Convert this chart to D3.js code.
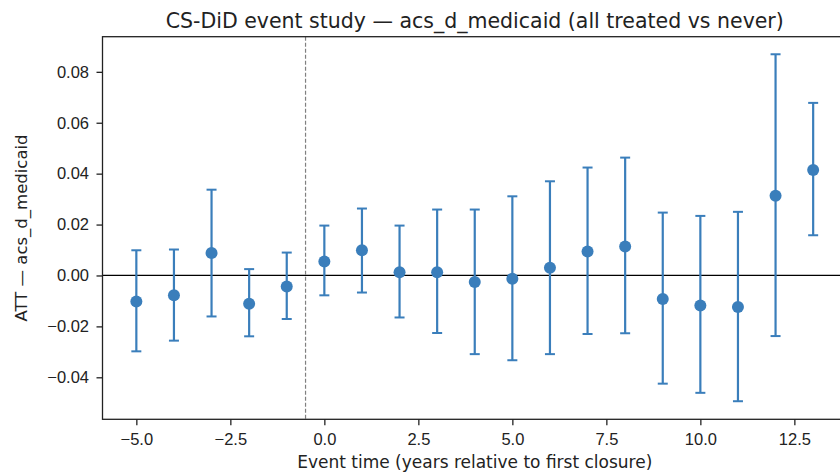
<!DOCTYPE html>
<html>
<head>
<meta charset="utf-8">
<script src="https://cdn.jsdelivr.net/npm/d3@7"></script>
<style>
  body { margin: 0; background: #fff; }
  svg { display: block; font-family: "DejaVu Sans", sans-serif; }
</style>
</head>
<body>
<svg id="chart" width="840" height="476"></svg>
<script>
// event-study estimates
const eventTimes = [-5, -4, -3, -2, -1, 0, 1, 2, 3, 4, 5, 6, 7, 8, 9, 10, 11, 12, 13];
const att   = [-0.0102, -0.0078, 0.0088, -0.0111, -0.0043, 0.0055, 0.0099, 0.0013, 0.0013, -0.0026, -0.0013, 0.0030, 0.0094, 0.0114, -0.0092, -0.0118, -0.0124, 0.0313, 0.0414];
const upper = [0.0099, 0.0102, 0.0337, 0.0025, 0.0090, 0.0196, 0.0263, 0.0196, 0.0259, 0.0259, 0.0311, 0.0370, 0.0424, 0.0463, 0.0247, 0.0234, 0.0250, 0.0869, 0.0678];
const lower = [-0.0298, -0.0256, -0.0161, -0.0239, -0.0171, -0.0078, -0.0067, -0.0165, -0.0226, -0.0309, -0.0333, -0.0309, -0.0230, -0.0227, -0.0425, -0.0461, -0.0494, -0.0238, 0.0158];
const xTicks = [-5, -2.5, 0, 2.5, 5, 7.5, 10, 12.5];
const yTicks = [-0.04, -0.02, 0, 0.02, 0.04, 0.06, 0.08];

const color = "#3a7ebb";

let svg = d3.select("#chart");

let mLeft = 102.5, mRight = 847, mTop = 36.7, mBottom = 419.3;

let x = d3.scaleLinear().domain([-5.9, 13.9]).range([mLeft, mRight]);
let y = d3.scaleLinear().domain([-0.0565, 0.0938]).range([mBottom, mTop]);

let data = eventTimes.map((e, i) => ({e: e, v: att[i], lo: lower[i], hi: upper[i]}));

let g = svg.append("g");

// zero line
g.append("line")
  .attr("x1", mLeft).attr("x2", mRight)
  .attr("y1", y(0)).attr("y2", y(0))
  .style("stroke", "#000")
  .style("stroke-width", 1.2);

// treatment onset
g.append("line")
  .attr("x1", x(-0.5)).attr("x2", x(-0.5))
  .attr("y1", mTop).attr("y2", mBottom)
  .style("stroke", "#808080")
  .style("stroke-width", 1.2)
  .style("stroke-dasharray", "4,2");

// error bars
let bars = g.selectAll(".err")
  .data(data)
  .enter()
  .append("g")
  .attr("class", "err");

bars.append("line")
  .attr("x1", d => x(d.e)).attr("x2", d => x(d.e))
  .attr("y1", d => y(d.lo)).attr("y2", d => y(d.hi))
  .style("stroke", color).style("stroke-width", 2.2);

bars.append("line")
  .attr("x1", d => x(d.e) - 5).attr("x2", d => x(d.e) + 5)
  .attr("y1", d => y(d.hi)).attr("y2", d => y(d.hi))
  .style("stroke", color).style("stroke-width", 2);

bars.append("line")
  .attr("x1", d => x(d.e) - 5).attr("x2", d => x(d.e) + 5)
  .attr("y1", d => y(d.lo)).attr("y2", d => y(d.lo))
  .style("stroke", color).style("stroke-width", 2);

bars.append("circle")
  .attr("cx", d => x(d.e))
  .attr("cy", d => y(d.v))
  .attr("r", 6)
  .style("fill", color);

// axes
let xAxis = svg.append("g")
  .attr("transform", "translate(0," + mBottom + ")")
  .call(d3.axisBottom(x).tickValues(xTicks).tickFormat(d3.format(".1f")).tickSize(6).tickPadding(7.5));

let yAxis = svg.append("g")
  .attr("transform", "translate(" + mLeft + ",0)")
  .call(d3.axisLeft(y).tickValues(yTicks).tickFormat(d3.format(".2f")).tickSize(6).tickPadding(7.5));

[xAxis, yAxis].forEach(a => {
  a.select(".domain").remove();
  a.selectAll("text").style("font-size", "16.5px").style("fill", "#222").attr("font-family", null);
  a.selectAll("line").style("stroke", "#222").style("stroke-width", 1.3);
});

// frame
svg.append("rect")
  .attr("x", mLeft).attr("y", mTop)
  .attr("width", mRight - mLeft).attr("height", mBottom - mTop)
  .style("fill", "none")
  .style("stroke", "#222")
  .style("stroke-width", 1.3);

// title and labels
svg.append("text")
  .attr("x", (mLeft + mRight) / 2).attr("y", 27.5)
  .attr("text-anchor", "middle")
  .style("font-size", "20.5px")
  .style("fill", "#222")
  .text("CS-DiD event study — acs_d_medicaid (all treated vs never)");

svg.append("text")
  .attr("x", (mLeft + mRight) / 2).attr("y", 467.5)
  .attr("text-anchor", "middle")
  .style("font-size", "17px")
  .style("fill", "#222")
  .text("Event time (years relative to first closure)");

svg.append("text")
  .attr("transform", "translate(26.5," + (mTop + mBottom) / 2 + ") rotate(-90)")
  .attr("text-anchor", "middle")
  .style("font-size", "16.5px")
  .style("fill", "#222")
  .text("ATT — acs_d_medicaid");
</script>
</body>
</html>
